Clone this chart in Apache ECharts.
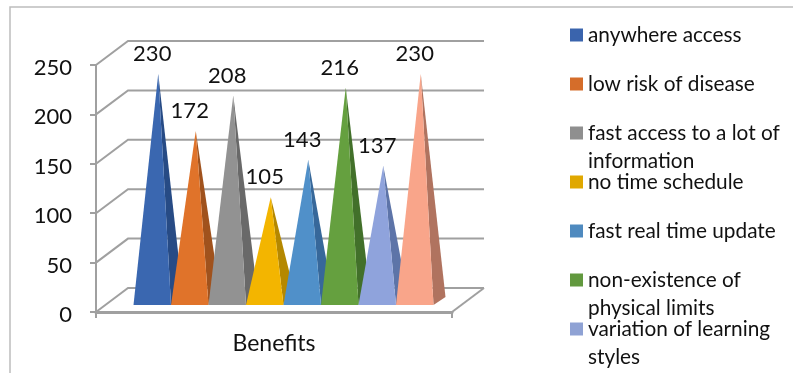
<!DOCTYPE html>
<html>
<head>
<meta charset="utf-8">
<style>html,body{margin:0;padding:0;background:#fff}#chart{width:793px;height:373px}</style>
<script src="https://cdn.jsdelivr.net/npm/echarts@6/dist/echarts.min.js"></script>
</head>
<body>
<div id="chart"></div>
<script>
// Survey counts per benefit, drawn as 3D-style pyramids
const category = ['Benefits'];
const benefitNames = [
  'anywhere access',
  'low risk of disease',
  'fast access to a lot of\ninformation',
  'no time schedule',
  'fast real time update',
  'non-existence of\nphysical limits',
  'variation of learning\nstyles',
  ''
];
const benefitValues = [230, 172, 208, 105, 143, 216, 137, 230];
const frontColors = ['#3a67b0', '#e0732a', '#929292', '#f3b500', '#5090c9', '#65a03f', '#8fa3dc', '#f9a58a'];
const sideColors = ['#274b85', '#a0521d', '#696969', '#b58800', '#37689a', '#42702a', '#5d74a8', '#b0735f'];
const swatchColors = ['#3a64ad', '#d56d2a', '#8f8f8f', '#e0a800', '#4f8abf', '#62993f', '#8fa2d4', '#f9a58a'];
const valueTicks = [0, 50, 100, 150, 200, 250];

const FONT = 'Lato';
const WALL = '#a0a0a0';
const WALL_DX = 32, WALL_DY = -24;      // depth of the chart box
const FLOOR_DX = 9.5, FLOOR_DY = -7;    // where pyramid bases sit on the floor
const BASE_DX = 12, BASE_DY = -8;       // depth of one pyramid base
const BAR_SHARE = 0.8427;               // part of the band taken by all pyramids
const LINE_H = 28, LEGEND_STEP = 49, LEGEND_FIRST = 35;

const chart = echarts.init(document.getElementById('chart'), null, {renderer: 'canvas'});

function wallItem(params, api) {
  const v = api.value(0);
  const p = api.coord([0, v]);
  const half = api.size([1, 0])[0] / 2;
  const x0 = p[0] - half, x1 = p[0] + half, y = p[1];
  const stroke = {stroke: WALL, lineWidth: 2, fill: null};
  const children = [
    {type: 'polyline', shape: {points: [[x0, y], [x0 + WALL_DX, y + WALL_DY], [x1 + WALL_DX, y + WALL_DY]]}, style: stroke}
  ];
  if (v === 0) {
    children.push({type: 'polyline', shape: {points: [[x1, y], [x1 + WALL_DX, y + WALL_DY]]}, style: stroke});
  }
  return {type: 'group', silent: true, children};
}

function pyramidItem(index) {
  return function (params, api) {
    const value = api.value(0);
    const base = api.coord([0, 0]);
    const top = api.coord([0, value]);
    const band = api.size([1, 0])[0];
    const w = band * BAR_SHARE / benefitValues.length;
    const left = base[0] + FLOOR_DX - w * benefitValues.length / 2 + index * w;
    const right = left + w;
    const y = base[1] + FLOOR_DY;
    const mid = left + w / 2;
    const peak = [mid + BASE_DX / 2, top[1] + FLOOR_DY + BASE_DY / 2];
    return {
      type: 'group',
      children: [
        {type: 'polygon', shape: {points: [[right, y], [right + BASE_DX, y + BASE_DY], peak]}, style: {fill: sideColors[index]}},
        {type: 'polygon', shape: {points: [[left, y], [right, y], peak]}, style: {fill: frontColors[index]}},
        {type: 'text', z2: 100, style: {
          x: mid, y: peak[1] - 20, text: String(value), align: 'center', verticalAlign: 'middle',
          fill: '#111', font: '22px ' + FONT
        }}
      ]
    };
  };
}

const series = [{
  type: 'custom',
  name: 'walls',
  z: 1,
  silent: true,
  data: valueTicks.map(v => [v]),
  encode: {y: 0},
  renderItem: wallItem
}];
benefitValues.forEach((v, i) => {
  series.push({
    type: 'custom',
    name: benefitNames[i] || 'series' + (i + 1),
    z: 2 + i,
    itemStyle: {color: swatchColors[i]},
    data: [[v]],
    encode: {y: 0},
    renderItem: pyramidItem(i)
  });
});

// One legend block per entry: rows keep a fixed pitch. A blank leading line keeps
// the swatch level with the first line when the text wraps onto a second one.
const legends = benefitNames.filter(n => n).map((name, i) => {
  const twoLines = name.indexOf('\n') >= 0;
  const centre = LEGEND_FIRST + i * LEGEND_STEP;
  return {
    data: [{name, icon: 'rect'}],
    orient: 'vertical',
    left: 570,
    top: centre - (twoLines ? LINE_H * 1.5 : LINE_H / 2),
    padding: 0,
    itemWidth: 13,
    itemHeight: 13,
    itemGap: 0,
    selectedMode: false,
    formatter: n => (n.indexOf('\n') >= 0 ? '\n' + n : n),
    textStyle: {fontFamily: FONT, fontSize: 20.8, color: '#111', lineHeight: LINE_H}
  };
});

chart.setOption({
  animation: false,
  backgroundColor: '#fff',
  grid: {left: 96, top: 65, width: 356, height: 247},
  xAxis: {
    type: 'category',
    data: category,
    axisLine: {lineStyle: {color: WALL, width: 3}},
    axisTick: {show: true, length: 6, lineStyle: {color: WALL, width: 2}},
    axisLabel: {fontFamily: FONT, fontSize: 23, color: '#111', margin: 20}
  },
  yAxis: {
    type: 'value',
    min: 0,
    max: 250,
    interval: 50,
    splitLine: {show: false},
    axisLine: {show: true, lineStyle: {color: WALL, width: 2}},
    axisTick: {show: true, length: 6, lineStyle: {color: WALL, width: 2}},
    axisLabel: {
      margin: 24,
      formatter: '{tick|{value}}',
      rich: {tick: {fontFamily: FONT, fontSize: 22, color: '#111', padding: [6, 0, 0, 0]}}
    }
  },
  legend: legends,
  series,
  graphic: [{
    type: 'polyline',
    silent: true,
    shape: {points: [[10, 373], [10, 7], [793, 7]]},
    style: {stroke: '#bdbdbd', lineWidth: 1.5, fill: null}
  }]
});
</script>
</body>
</html>
